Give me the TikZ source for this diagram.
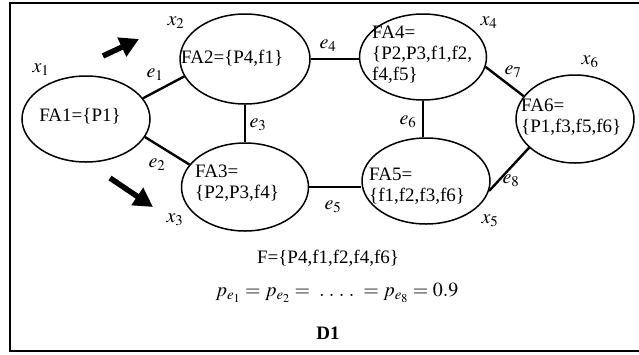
\documentclass[tikz,border=0pt]{standalone}
\usepackage{mathptmx}
\usepackage{fontspec}
\setmainfont{Liberation Serif}
\usetikzlibrary{arrows.meta,positioning,shapes.geometric}
\tikzset{
  % one ellipse per fragment set
  fa/.style     = {ellipse, draw, line width=1.5pt, inner sep=0pt},
  edge/.style   = {line width=2.4pt},
  txt/.style    = {font=\fontsize{19}{21}\selectfont, align=left, inner sep=0pt},
  lbl/.style    = {font=\fontsize{20}{22}\selectfont, inner sep=0pt},
  bigarr/.style = {line width=5.5pt, -{Triangle[length=19pt,width=20pt]}},
}
\begin{document}
\begin{tikzpicture}[x=1pt,y=-1pt]
\useasboundingbox (0,0) rectangle (639,354);
\draw[line width=1.8pt] (639,3) -- (10,3) -- (10,351) -- (639,351);
% --- the six sets -------------------------------------------------------
\node[fa, minimum width=128pt, minimum height=86pt] (fa1) at (86,119) {};
\node[fa, minimum width=130pt, minimum height=90pt] (fa2) at (245,59) {};
\node[fa, minimum width=127pt, minimum height=88pt] (fa3) at (245,187) {};
\node[fa, minimum width=127pt, minimum height=86pt] (fa4) at (423,57) {};
\node[fa, minimum width=128pt, minimum height=86pt] (fa5) at (426,181) {};
\node[fa, minimum width=118pt, minimum height=88pt] (fa6) at (575,119) {};
% --- set contents -------------------------------------------------------
\node[txt] (t1) at (80,116) {FA1=\{P1\}};
\node[txt, anchor=west] (t2) at (181,58) {FA2=\{P4,f1\}};
\node[txt, anchor=west] (t3) at (195,183) {FA3=\\\{P2,P3,f4\}};
\node[txt, anchor=west] (t4) at (372,55) {FA4=\\\{P2,P3,f1,f2,\\f4,f5\}};
\node[txt, anchor=west] (t5) at (369,186) {FA5=\\\{f1,f2,f3,f6\}};
\node[txt, anchor=west] (t6) at (521,117) {FA6=\\\{P1,f3,f5,f6\}};
% --- links --------------------------------------------------------------
\draw[edge] (fa1.20) -- (fa2.196);
\draw[edge] (fa1.-17) -- (fa3.158);
\draw[edge] (fa2.south) -- (fa3.north);
\draw[edge] (fa2.east) -- (fa2.east -| fa4.west);
\draw[edge] (fa3.east) -- (fa3.east -| fa5.west);
\draw[edge] (fa4.south) -- (fa4.south |- fa5.north);
\draw[edge] (fa4.-9) -- (fa6.156);
\draw[edge] (fa5.-9) -- (fa6.212);
% --- link and site labels -----------------------------------------------
\node[lbl] (e1) at (155,75)  {$e_1$};
\node[lbl] (e2) at (157,165) {$e_2$};
\node[lbl] (e3) at (258,125) {$e_3$};
\node[lbl] (e4) at (328,46)  {$e_4$};
\node[lbl] (e5) at (333,207) {$e_5$};
\node[lbl] (e6) at (408,122) {$e_6$};
\node[lbl] (e7) at (513,72)  {$e_7$};
\node[lbl] (e8) at (511,181) {$e_8$};
\node[lbl] (x1) at (41,70)   {$x_1$};
\node[lbl] (x2) at (176,23)  {$x_2$};
\node[lbl] (x3) at (175,220) {$x_3$};
\node[lbl] (x4) at (489,23)  {$x_4$};
\node[lbl] (x5) at (490,221) {$x_5$};
\node[lbl] (x6) at (590,62)  {$x_6$};
% --- the two arrows ----------------------------------------------------
\coordinate (a1s) at (103,56);
\coordinate (a1e) at (139,39);
\coordinate (a2s) at (110,178);
\coordinate (a2e) at (153,207);
\draw[bigarr] (a1s) -- (a1e);
\draw[bigarr] (a2s) -- (a2e);
% --- caption -----------------------------------------------------------
\node[txt] (fset) at (328,258) {F=\{P4,f1,f2,f4,f6\}};
\node[lbl] (prob) at (337,293) {$p_{e_1}=p_{e_2}=\;.\,\,.\,\,.\,\,.\;=p_{e_8}=0.9$};
\node[txt, font=\fontsize{19}{21}\selectfont\bfseries] (d1) at (328,333) {D1};
\end{tikzpicture}
\end{document}
